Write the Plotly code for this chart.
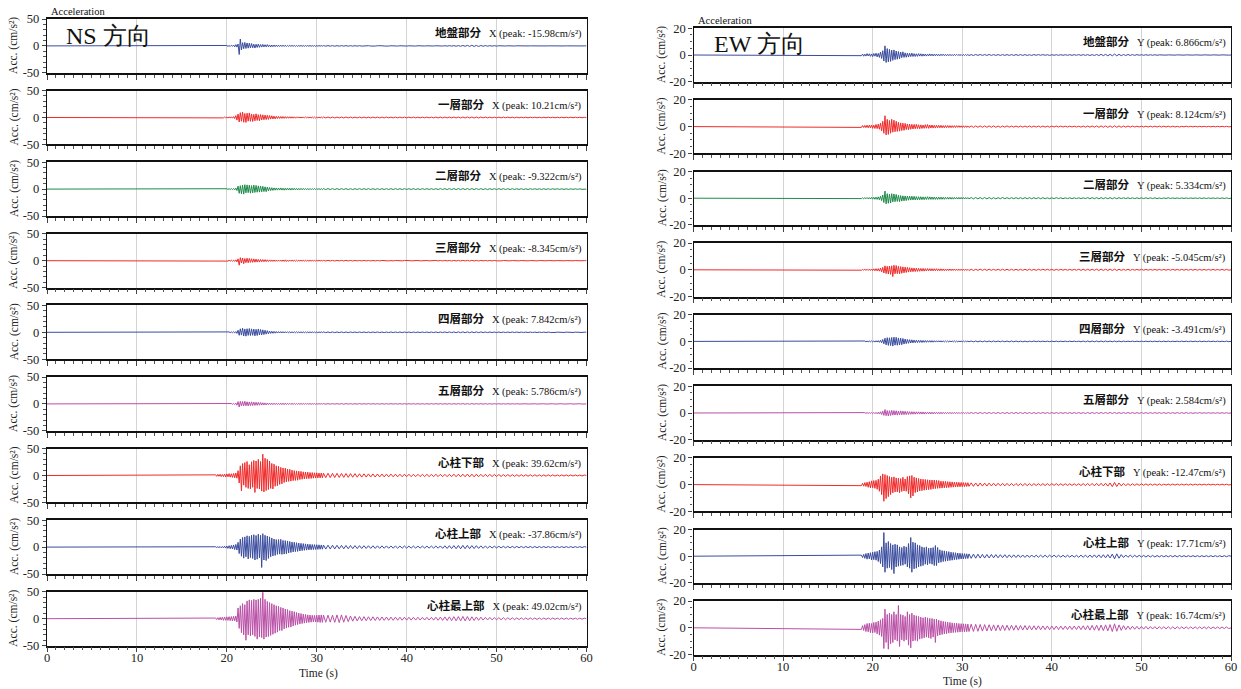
import numpy as np
import plotly.graph_objects as go

W, H = 1241, 689

# ---------------- sample time base (s) ----------------
T_MAIN = list(np.round(18.75 + 0.125 * np.arange(96), 4))   # 18.75 .. 30.625
T_TAIL = list(np.round(30.75 + 0.25 * np.arange(117), 4))   # 30.75 .. 59.75
TIME = [0.0] + T_MAIN + T_TAIL + [60.0]

# ---------------- NS (X) accelerations, cm/s^2 ----------------
NS_GROUND = [
    0.3, -0.4, 0.5, -0.3, 0.6, -0.5, 0.4, -0.6,
    0.7, -0.5, 0.8, -0.9, 0.6, -1.0, 1.2, -0.8,
    1.5, -1.8, 2.4, -2.2, 3.5, -15.98, 12.8, -7.5,
    6.0, -5.2, 6.5, -4.8, 5.5, -4.2, 5.0, -3.8,
    4.4, -3.6, 3.2, -4.0, 3.0, -2.8, 3.4, -2.6,
    2.5, -2.2, 2.8, -2.0, 2.2, -1.8, 2.4, -1.7,
    1.8, -2.0, 1.6, -1.5, 1.7, -1.4, 1.5, -1.3,
    1.4, -1.2, 1.3, -1.1, 1.4, -1.0, 1.2, -1.1,
    1.0, -0.9, 1.1, -0.9, 1.0, -0.8, 0.9, -1.0,
    0.8, -0.9, 0.8, -0.7, 0.9, -0.8, 0.7, -0.8,
    0.7, -0.7, 0.8, -0.6, 0.7, -0.7, 0.6, -0.7,
    0.6, -0.7, 0.6, -0.6, 0.7, -0.5, 0.6, -0.6,
    # tail
    0.6, -0.5, 0.6, -0.5, 0.5, -0.6, 0.5, -0.5,
    0.5, -0.4, 0.5, -0.5, 0.4, -0.5, 0.4, -0.4,
    0.4, -0.4, 0.3, -0.4, 0.4, -0.3, 0.4, -0.3,
    0.3, -0.4, 0.3, -0.3, 0.4, -0.3, 0.3, -0.3,
    0.3, -0.3, 0.3, -0.2, 0.3, -0.3, 0.2, -0.3,
    0.2, -0.3, 0.3, -0.2, 0.3, -0.2, 0.2, -0.3,
    0.3, -0.2, 0.3, -0.3, 0.4, -0.3, 0.4, -0.4,
    0.5, -0.4, 0.5, -0.6, 0.6, -0.7, 0.8, -0.7,
    1.0, -0.9, 1.2, -1.0, 0.9, -1.1, 0.8, -0.7,
    0.6, -0.5, 0.5, -0.4, 0.4, -0.4, 0.3, -0.3,
    0.3, -0.2, 0.2, -0.2, 0.2, -0.2, 0.2, -0.1,
    0.1, -0.2, 0.1, -0.1, 0.1, -0.1, 0.1, -0.1,
    0.1, -0.1, 0.1, -0.1, 0.1, -0.1, 0.1, -0.1,
    0.1, -0.1, 0.1, -0.1, 0.1, -0.1, 0.1, -0.1,
    0.1, -0.1, 0.1, -0.1, 0.1]
NS_F1 = [
    0.4, -0.5, 0.5, -0.4, 0.6, -0.5, 0.6, -0.7,
    0.8, -0.7, 0.9, -1.0, 1.1, -0.9, 1.3, -1.2,
    1.6, -2.0, 3.5, -4.8, 6.5, -8.2, 9.0, -7.0,
    10.21, -8.8, 7.5, -9.2, 8.0, -6.8, 8.5, -7.2,
    6.6, -7.4, 5.8, -6.2, 6.9, -5.5, 5.2, -6.0,
    5.4, -4.6, 5.0, -4.2, 4.5, -3.8, 4.0, -3.5,
    3.6, -3.0, 3.2, -2.8, 2.5, -2.6, 2.2, -2.0,
    2.0, -1.8, 1.9, -1.7, 1.8, -1.6, 1.6, -1.5,
    1.5, -1.4, 1.5, -1.3, 1.4, -1.3, 1.2, -1.3,
    1.2, -1.1, 1.2, -1.1, 1.0, -1.1, 1.1, -1.0,
    1.0, -1.0, 1.1, -0.9, 1.0, -0.9, 1.0, -0.9,
    0.9, -1.0, 0.9, -0.9, 1.0, -0.8, 0.9, -0.9,
    # tail
    0.9, -0.8, 0.9, -0.8, 0.8, -0.9, 0.8, -0.8,
    0.8, -0.8, 0.9, -0.7, 0.8, -0.8, 0.7, -0.8,
    0.8, -0.7, 0.8, -0.8, 0.7, -0.8, 0.8, -0.7,
    0.7, -0.8, 0.7, -0.7, 0.8, -0.7, 0.7, -0.7,
    0.7, -0.7, 0.8, -0.7, 0.7, -0.7, 0.7, -0.6,
    0.7, -0.7, 0.6, -0.7, 0.7, -0.6, 0.7, -0.7,
    0.7, -0.7, 0.8, -0.7, 0.8, -0.8, 0.8, -0.8,
    0.8, -0.8, 0.9, -0.8, 0.9, -0.9, 0.9, -0.9,
    1.0, -0.9, 1.0, -1.0, 0.9, -1.0, 0.9, -0.8,
    0.8, -0.8, 0.7, -0.8, 0.7, -0.7, 0.7, -0.7,
    0.7, -0.6, 0.7, -0.6, 0.6, -0.7, 0.6, -0.6,
    0.6, -0.6, 0.6, -0.6, 0.6, -0.5, 0.6, -0.6,
    0.5, -0.6, 0.5, -0.5, 0.6, -0.5, 0.5, -0.5,
    0.5, -0.5, 0.5, -0.5, 0.5, -0.5, 0.5, -0.4,
    0.5, -0.4, 0.4, -0.4, 0.4]
NS_F2 = [
    0.3, -0.3, 0.4, -0.4, 0.4, -0.5, 0.5, -0.5,
    0.6, -0.6, 0.7, -0.7, 0.8, -0.8, 0.9, -1.0,
    1.2, -1.4, 1.8, -2.6, 5.5, -7.8, 6.4, -8.6,
    7.5, -9.322, 8.2, -7.0, 7.8, -6.6, 7.2, -7.6,
    6.5, -7.0, 7.4, -6.2, 6.8, -5.8, 6.0, -5.6,
    5.8, -5.0, 5.2, -4.6, 4.2, -4.8, 3.8, -3.4,
    3.0, -2.8, 2.6, -2.4, 2.2, -2.0, 2.1, -1.9,
    2.0, -1.8, 2.2, -1.9, 1.8, -2.0, 1.7, -1.8,
    1.9, -1.7, 1.6, -1.8, 1.7, -1.5, 1.6, -1.4,
    1.4, -1.5, 1.3, -1.3, 1.4, -1.2, 1.3, -1.2,
    1.2, -1.2, 1.1, -1.2, 1.1, -1.0, 1.1, -1.0,
    1.0, -1.0, 1.1, -0.9, 1.0, -1.0, 0.9, -1.0,
    # tail
    0.9, -0.9, 1.0, -0.9, 0.9, -0.9, 0.9, -0.9,
    0.9, -0.8, 0.9, -0.9, 0.8, -0.9, 0.8, -0.8,
    0.9, -0.8, 0.8, -0.8, 0.9, -0.8, 0.8, -0.8,
    0.8, -0.8, 0.8, -0.8, 0.8, -0.8, 0.8, -0.8,
    0.8, -0.7, 0.8, -0.8, 0.8, -0.7, 0.8, -0.8,
    0.8, -0.8, 0.7, -0.8, 0.8, -0.7, 0.8, -0.7,
    0.8, -0.8, 0.8, -0.8, 0.9, -0.8, 0.9, -0.9,
    0.9, -0.9, 1.0, -0.9, 1.0, -1.0, 1.0, -0.9,
    1.0, -1.0, 1.0, -0.9, 1.0, -0.9, 0.9, -0.9,
    0.8, -0.9, 0.8, -0.8, 0.8, -0.8, 0.8, -0.7,
    0.8, -0.7, 0.7, -0.7, 0.7, -0.7, 0.7, -0.7,
    0.7, -0.7, 0.6, -0.7, 0.7, -0.6, 0.6, -0.6,
    0.6, -0.6, 0.6, -0.6, 0.6, -0.6, 0.6, -0.5,
    0.6, -0.5, 0.5, -0.5, 0.5, -0.5, 0.5, -0.5,
    0.5, -0.5, 0.5, -0.4, 0.4]
NS_F3 = [
    0.3, -0.3, 0.3, -0.4, 0.4, -0.4, 0.5, -0.5,
    0.5, -0.6, 0.6, -0.7, 0.7, -0.8, 0.9, -0.9,
    1.0, -1.3, 1.6, -2.2, 3.4, -8.345, 5.6, -4.2,
    4.8, -5.6, 4.0, -3.6, 4.6, -3.8, 4.2, -3.2,
    3.6, -3.0, 3.4, -2.8, 3.0, -2.6, 2.4, -2.5,
    2.2, -2.0, 2.1, -1.8, 1.9, -1.7, 1.6, -1.5,
    1.5, -1.4, 1.4, -1.3, 1.3, -1.2, 1.2, -1.1,
    1.1, -1.0, 1.2, -1.2, 1.3, -1.4, 1.5, -1.4,
    1.3, -1.2, 1.1, -1.0, 1.0, -0.9, 0.9, -0.9,
    0.8, -0.8, 0.8, -0.7, 0.8, -0.7, 0.7, -0.7,
    0.7, -0.7, 0.6, -0.7, 0.6, -0.6, 0.6, -0.6,
    0.6, -0.6, 0.6, -0.5, 0.6, -0.5, 0.5, -0.5,
    # tail
    0.5, -0.5, 0.5, -0.5, 0.5, -0.5, 0.5, -0.4,
    0.5, -0.4, 0.5, -0.4, 0.4, -0.5, 0.4, -0.4,
    0.4, -0.4, 0.4, -0.4, 0.4, -0.4, 0.4, -0.4,
    0.4, -0.4, 0.4, -0.3, 0.4, -0.4, 0.3, -0.4,
    0.4, -0.3, 0.4, -0.3, 0.3, -0.4, 0.3, -0.3,
    0.3, -0.3, 0.4, -0.3, 0.3, -0.3, 0.3, -0.3,
    0.3, -0.3, 0.4, -0.4, 0.4, -0.4, 0.4, -0.4,
    0.4, -0.5, 0.5, -0.5, 0.5, -0.5, 0.6, -0.5,
    0.6, -0.6, 0.6, -0.5, 0.5, -0.5, 0.5, -0.4,
    0.4, -0.4, 0.4, -0.4, 0.4, -0.3, 0.4, -0.3,
    0.3, -0.3, 0.3, -0.3, 0.3, -0.3, 0.3, -0.3,
    0.3, -0.3, 0.3, -0.3, 0.3, -0.3, 0.3, -0.3,
    0.3, -0.3, 0.3, -0.2, 0.3, -0.2, 0.3, -0.2,
    0.2, -0.3, 0.2, -0.2, 0.2, -0.2, 0.2, -0.2,
    0.2, -0.2, 0.2, -0.2, 0.2]
NS_F4 = [
    0.3, -0.3, 0.3, -0.3, 0.4, -0.4, 0.4, -0.5,
    0.5, -0.5, 0.6, -0.6, 0.7, -0.7, 0.8, -0.8,
    0.9, -1.1, 1.4, -2.0, 3.8, -5.6, 6.5, -5.2,
    7.842, -6.8, 6.2, -7.2, 6.6, -5.8, 7.0, -6.0,
    6.4, -5.6, 6.0, -6.6, 5.4, -5.9, 6.2, -5.0,
    5.2, -4.8, 4.6, -4.2, 3.8, -3.4, 3.0, -2.8,
    2.4, -2.2, 2.0, -1.8, 1.7, -1.6, 1.5, -1.4,
    1.4, -1.3, 1.3, -1.2, 1.2, -1.2, 1.1, -1.1,
    1.1, -1.0, 1.0, -1.0, 1.0, -0.9, 1.0, -0.9,
    0.9, -0.9, 0.9, -0.8, 0.9, -0.8, 0.8, -0.8,
    0.8, -0.8, 0.8, -0.7, 0.8, -0.7, 0.7, -0.7,
    0.7, -0.7, 0.7, -0.7, 0.7, -0.6, 0.7, -0.6,
    # tail
    0.7, -0.6, 0.6, -0.6, 0.6, -0.6, 0.6, -0.6,
    0.6, -0.6, 0.6, -0.6, 0.6, -0.5, 0.6, -0.6,
    0.6, -0.5, 0.6, -0.6, 0.5, -0.6, 0.6, -0.5,
    0.6, -0.5, 0.5, -0.6, 0.5, -0.5, 0.6, -0.5,
    0.5, -0.5, 0.6, -0.5, 0.5, -0.5, 0.5, -0.5,
    0.5, -0.5, 0.5, -0.5, 0.5, -0.5, 0.5, -0.5,
    0.5, -0.6, 0.6, -0.6, 0.6, -0.6, 0.7, -0.6,
    0.7, -0.7, 0.7, -0.7, 0.8, -0.7, 0.8, -0.8,
    0.8, -0.8, 0.8, -0.7, 0.7, -0.7, 0.7, -0.6,
    0.6, -0.6, 0.6, -0.5, 0.5, -0.5, 0.5, -0.5,
    0.5, -0.5, 0.5, -0.4, 0.5, -0.4, 0.5, -0.4,
    0.4, -0.4, 0.4, -0.4, 0.4, -0.4, 0.4, -0.4,
    0.4, -0.4, 0.4, -0.4, 0.4, -0.3, 0.4, -0.3,
    0.3, -0.3, 0.3, -0.3, 0.3, -0.3, 0.3, -0.3,
    0.3, -0.3, 0.3, -0.3, 0.3]
NS_F5 = [
    0.2, -0.3, 0.3, -0.3, 0.3, -0.3, 0.4, -0.4,
    0.4, -0.5, 0.5, -0.5, 0.6, -0.6, 0.7, -0.7,
    0.8, -1.0, 1.4, -2.4, 4.2, -5.786, 4.6, -3.8,
    4.4, -3.6, 4.8, -3.4, 4.0, -3.8, 3.6, -3.2,
    3.8, -3.0, 3.4, -2.8, 3.0, -2.6, 2.8, -2.4,
    2.6, -2.2, 2.2, -2.0, 1.9, -1.8, 1.7, -1.6,
    1.5, -1.4, 1.4, -1.3, 1.3, -1.2, 1.2, -1.2,
    1.2, -1.3, 1.3, -1.4, 1.4, -1.3, 1.4, -1.3,
    1.2, -1.2, 1.1, -1.0, 1.0, -0.9, 0.9, -0.9,
    0.8, -0.8, 0.8, -0.7, 0.7, -0.7, 0.7, -0.7,
    0.7, -0.6, 0.6, -0.6, 0.6, -0.6, 0.6, -0.6,
    0.6, -0.6, 0.6, -0.5, 0.6, -0.5, 0.5, -0.5,
    # tail
    0.5, -0.5, 0.5, -0.5, 0.5, -0.5, 0.5, -0.5,
    0.5, -0.5, 0.5, -0.4, 0.5, -0.5, 0.4, -0.5,
    0.5, -0.4, 0.4, -0.4, 0.5, -0.4, 0.4, -0.4,
    0.4, -0.4, 0.4, -0.4, 0.4, -0.4, 0.4, -0.4,
    0.4, -0.4, 0.4, -0.4, 0.4, -0.4, 0.4, -0.4,
    0.4, -0.4, 0.4, -0.4, 0.4, -0.4, 0.4, -0.4,
    0.4, -0.4, 0.5, -0.4, 0.5, -0.5, 0.5, -0.5,
    0.5, -0.5, 0.5, -0.5, 0.6, -0.5, 0.6, -0.6,
    0.6, -0.6, 0.6, -0.5, 0.5, -0.5, 0.5, -0.5,
    0.5, -0.4, 0.4, -0.4, 0.4, -0.4, 0.4, -0.4,
    0.4, -0.4, 0.4, -0.4, 0.4, -0.3, 0.4, -0.3,
    0.3, -0.3, 0.3, -0.3, 0.3, -0.3, 0.3, -0.3,
    0.3, -0.3, 0.3, -0.3, 0.3, -0.3, 0.3, -0.3,
    0.3, -0.3, 0.3, -0.3, 0.3, -0.3, 0.3, -0.3,
    0.3, -0.3, 0.3, -0.3, 0.3]
NS_CORE_LOW = [
    1.2, -1.6, 2.0, -1.5, 2.4, -2.0, 1.8, -2.2,
    2.6, -2.8, 3.0, -2.4, 3.4, -3.0, 3.2, -3.6,
    3.8, -4.2, 4.6, -5.0, 9.0, -14.0, 18.0, -28.5,
    22.0, -18.0, 24.0, -22.0, 26.0, -24.0, 20.0, -25.0,
    25.5, -22.0, 28.0, -31.5, 27.0, -24.0, 30.0, -25.0,
    26.0, -29.0, 39.62, -30.5, 32.0, -28.0, 30.0, -26.0,
    27.0, -24.0, 22.5, -25.0, 21.0, -20.0, 18.0, -19.0,
    17.0, -16.5, 15.0, -15.5, 14.0, -13.0, 13.5, -12.0,
    12.0, -11.0, 11.5, -10.5, 10.0, -9.5, 9.0, -9.2,
    8.5, -8.8, 8.0, -7.5, 7.6, -7.0, 6.8, -6.5,
    6.5, -6.0, 6.2, -5.8, 5.6, -5.5, 5.4, -5.0,
    5.0, -4.8, 5.0, -4.6, 4.5, -4.4, 4.6, -4.2,
    # tail
    4.2, -4.0, 4.2, -3.9, 4.0, -3.8, 4.0, -3.6,
    3.8, -3.5, 3.6, -3.4, 3.5, -3.2, 3.4, -3.1,
    3.2, -3.0, 3.1, -2.9, 3.0, -2.8, 2.9, -2.8,
    2.8, -2.6, 2.7, -2.6, 2.6, -2.5, 2.6, -2.4,
    2.5, -2.4, 2.4, -2.3, 2.4, -2.2, 2.3, -2.2,
    2.2, -2.1, 2.2, -2.0, 2.1, -2.0, 2.1, -2.0,
    2.0, -2.0, 2.1, -2.0, 2.2, -2.1, 2.2, -2.2,
    2.3, -2.2, 2.4, -2.3, 2.4, -2.4, 2.5, -2.4,
    2.6, -2.5, 2.5, -2.4, 2.4, -2.3, 2.2, -2.2,
    2.1, -2.0, 2.0, -1.9, 1.9, -1.8, 1.8, -1.8,
    1.7, -1.7, 1.7, -1.6, 1.6, -1.6, 1.5, -1.5,
    1.5, -1.4, 1.5, -1.4, 1.4, -1.4, 1.3, -1.3,
    1.3, -1.3, 1.2, -1.2, 1.2, -1.2, 1.2, -1.1,
    1.1, -1.1, 1.1, -1.0, 1.0, -1.0, 1.0, -1.0,
    1.0, -0.9, 0.9, -0.9, 0.9]
NS_CORE_UP = [
    0.6, -0.8, 0.8, -1.0, 1.0, -1.2, 1.2, -1.4,
    1.6, -1.8, 2.0, -2.4, 2.6, -3.0, 3.2, -3.5,
    4.0, -4.6, 5.0, -5.5, 9.0, -12.0, 15.0, -17.0,
    18.0, -20.5, 19.0, -18.0, 21.0, -22.0, 20.0, -19.5,
    22.0, -21.0, 23.0, -24.0, 21.5, -22.5, 24.0, -20.0,
    22.0, -37.86, 25.0, -24.0, 22.0, -25.0, 20.5, -21.0,
    19.0, -18.0, 17.0, -16.5, 15.0, -15.5, 14.0, -13.5,
    14.0, -13.0, 14.5, -13.5, 12.5, -13.0, 12.0, -12.5,
    11.5, -11.0, 10.5, -10.0, 9.5, -9.0, 9.0, -8.5,
    8.2, -8.0, 7.5, -7.2, 7.0, -6.5, 6.5, -6.0,
    6.0, -5.6, 5.5, -5.2, 5.2, -5.0, 4.8, -4.6,
    4.6, -4.4, 4.4, -4.2, 4.2, -4.0, 4.0, -3.9,
    # tail
    3.8, -3.7, 3.6, -3.5, 3.5, -3.4, 3.3, -3.2,
    3.2, -3.1, 3.0, -3.0, 2.9, -2.8, 2.8, -2.7,
    2.7, -2.6, 2.6, -2.5, 2.5, -2.4, 2.4, -2.4,
    2.3, -2.3, 2.3, -2.2, 2.2, -2.2, 2.1, -2.1,
    2.1, -2.0, 2.0, -2.0, 2.0, -1.9, 1.9, -1.9,
    1.9, -1.8, 1.8, -1.8, 1.8, -1.8, 1.8, -1.8,
    1.9, -1.9, 2.0, -2.1, 2.2, -2.3, 2.4, -2.5,
    2.6, -2.7, 2.8, -2.9, 3.0, -3.1, 3.2, -3.0,
    3.2, -3.0, 2.8, -2.7, 2.6, -2.4, 2.3, -2.2,
    2.0, -1.9, 1.8, -1.7, 1.7, -1.6, 1.6, -1.5,
    1.5, -1.4, 1.4, -1.4, 1.3, -1.3, 1.3, -1.2,
    1.2, -1.2, 1.2, -1.1, 1.1, -1.1, 1.1, -1.1,
    1.0, -1.0, 1.0, -1.0, 1.0, -1.0, 1.0, -0.9,
    0.9, -0.9, 0.9, -0.9, 0.9, -0.9, 0.9, -0.9,
    0.9, -0.8, 0.8, -0.8, 0.8]
NS_CORE_TOP = [
    1.2, -1.6, 2.0, -2.2, 2.5, -2.4, 2.8, -3.0,
    3.2, -3.0, 3.5, -3.2, 3.8, -3.6, 4.0, -4.2,
    4.5, -4.0, 5.0, -6.0, 20.0, -18.0, 24.0, -26.0,
    28.0, -30.0, 26.0, -40.0, 33.0, -30.0, 35.0, -32.0,
    34.0, -30.0, 36.0, -33.0, 35.0, -38.0, 36.0, -34.0,
    38.0, -35.0, 49.02, -38.0, 36.0, -34.0, 32.0, -33.0,
    30.0, -31.0, 28.0, -29.0, 26.0, -27.0, 24.0, -25.0,
    23.0, -22.0, 21.0, -22.0, 20.0, -19.0, 18.0, -17.5,
    17.0, -16.0, 15.0, -15.5, 14.0, -13.5, 13.0, -12.0,
    11.5, -11.0, 10.5, -10.0, 9.5, -9.0, 8.5, -8.2,
    8.0, -7.5, 7.2, -7.0, 6.8, -6.5, 6.4, -6.2,
    6.0, -6.2, 6.5, -6.6, 6.8, -7.0, 7.0, -6.8,
    # tail
    6.8, -6.6, 6.5, -6.4, 6.6, -6.8, 7.0, -7.2,
    7.0, -6.5, 6.0, -5.5, 5.0, -4.6, 4.4, -4.2,
    4.0, -3.9, 3.8, -3.7, 3.6, -3.5, 3.5, -3.4,
    3.3, -3.3, 3.2, -3.1, 3.1, -3.0, 3.0, -3.0,
    2.9, -2.9, 2.8, -2.8, 2.8, -2.7, 2.7, -2.7,
    2.6, -2.6, 2.6, -2.5, 2.5, -2.5, 2.5, -2.5,
    2.6, -2.7, 2.8, -2.9, 3.0, -3.2, 3.3, -3.4,
    3.5, -3.6, 3.8, -3.9, 4.0, -4.1, 4.2, -4.0,
    4.0, -3.8, 3.6, -3.4, 3.2, -3.0, 2.8, -2.6,
    2.5, -2.4, 2.3, -2.2, 2.2, -2.1, 2.0, -2.0,
    1.9, -1.9, 1.8, -1.8, 1.7, -1.7, 1.6, -1.6,
    1.6, -1.5, 1.5, -1.5, 1.5, -1.4, 1.4, -1.4,
    1.4, -1.3, 1.3, -1.3, 1.3, -1.3, 1.3, -1.2,
    1.2, -1.2, 1.2, -1.2, 1.2, -1.1, 1.1, -1.1,
    1.1, -1.1, 1.1, -1.0, 1.0]

# ---------------- EW (Y) accelerations, cm/s^2 ----------------
EW_GROUND = [
    -0.5, 0.7, -0.9, 0.6, -0.8, 1.0, -0.7, 0.9,
    -1.0, 0.8, -1.2, 1.1, -0.9, 1.3, -1.4, 1.2,
    -1.8, 2.2, -2.6, 3.2, -4.5, 6.866, -5.6, 4.8,
    -5.2, 4.2, -4.8, 3.6, -4.0, 3.8, -3.4, 3.0,
    -3.2, 2.6, -2.8, 2.2, -2.0, 2.4, -1.8, 1.6,
    -1.7, 1.4, -1.5, 1.3, -1.2, 1.4, -1.1, 1.0,
    -1.1, 0.9, -1.0, 1.0, -0.8, 0.9, -0.9, 0.8,
    -0.8, 0.7, -0.8, 0.7, -0.7, 0.8, -0.6, 0.7,
    -0.7, 0.6, -0.6, 0.7, -0.6, 0.5, -0.6, 0.6,
    -0.5, 0.6, -0.5, 0.5, -0.6, 0.5, -0.5, 0.5,
    -0.5, 0.4, -0.5, 0.5, -0.4, 0.5, -0.4, 0.4,
    -0.4, 0.4, -0.5, 0.4, -0.4, 0.4, -0.4, 0.4,
    # tail
    -0.4, 0.3, -0.4, 0.4, -0.3, 0.4, -0.3, 0.3,
    -0.3, 0.4, -0.3, 0.3, -0.3, 0.3, -0.3, 0.3,
    -0.3, 0.3, -0.3, 0.3, -0.3, 0.3, -0.3, 0.3,
    -0.3, 0.3, -0.3, 0.2, -0.3, 0.3, -0.2, 0.3,
    -0.2, 0.3, -0.2, 0.2, -0.3, 0.2, -0.2, 0.2,
    -0.2, 0.2, -0.2, 0.2, -0.2, 0.2, -0.2, 0.2,
    -0.2, 0.3, -0.3, 0.3, -0.3, 0.3, -0.4, 0.3,
    -0.4, 0.4, -0.4, 0.5, -0.5, 0.5, -0.6, 0.5,
    -0.6, 0.7, -0.6, 0.5, -0.5, 0.4, -0.4, 0.4,
    -0.3, 0.3, -0.3, 0.3, -0.2, 0.2, -0.2, 0.2,
    -0.2, 0.2, -0.2, 0.2, -0.2, 0.1, -0.1, 0.1,
    -0.1, 0.1, -0.1, 0.1, -0.1, 0.1, -0.1, 0.1,
    -0.1, 0.1, -0.1, 0.1, -0.1, 0.1, -0.1, 0.1,
    -0.1, 0.1, -0.1, 0.1, -0.1, 0.1, -0.1, 0.1,
    -0.1, 0.1, -0.1, 0.1, -0.1]
EW_F1 = [
    -0.6, 0.8, -0.7, 0.9, -0.8, 1.0, -0.9, 1.1,
    -1.0, 1.2, -1.3, 1.1, -1.4, 1.6, -1.5, 1.8,
    -2.0, 2.6, -3.2, 4.0, -5.0, 8.124, -6.2, 5.4,
    -5.8, 4.6, -5.0, 5.5, -4.2, 4.8, -3.8, 4.0,
    -3.6, 3.2, -3.4, 2.8, -3.0, 2.6, -2.8, 2.4,
    -2.2, 2.0, -2.3, 1.8, -2.0, 1.7, -1.8, 1.6,
    -1.6, 1.7, -1.5, 1.4, -1.6, 1.3, -1.4, 1.2,
    -1.3, 1.4, -1.2, 1.5, -1.3, 1.2, -1.1, 1.2,
    -1.1, 1.0, -1.1, 1.0, -0.9, 1.0, -0.9, 0.9,
    -0.9, 0.8, -0.9, 0.8, -0.8, 0.8, -0.8, 0.7,
    -0.8, 0.7, -0.7, 0.7, -0.7, 0.7, -0.6, 0.7,
    -0.6, 0.6, -0.7, 0.6, -0.6, 0.6, -0.6, 0.5,
    # tail
    -0.6, 0.5, -0.6, 0.5, -0.5, 0.5, -0.5, 0.5,
    -0.5, 0.5, -0.5, 0.5, -0.5, 0.4, -0.5, 0.4,
    -0.4, 0.5, -0.4, 0.4, -0.4, 0.4, -0.4, 0.4,
    -0.4, 0.4, -0.4, 0.4, -0.4, 0.4, -0.4, 0.4,
    -0.4, 0.4, -0.4, 0.3, -0.4, 0.4, -0.3, 0.4,
    -0.3, 0.4, -0.3, 0.3, -0.3, 0.3, -0.3, 0.3,
    -0.3, 0.3, -0.4, 0.4, -0.4, 0.4, -0.4, 0.4,
    -0.4, 0.5, -0.5, 0.5, -0.5, 0.5, -0.6, 0.5,
    -0.6, 0.6, -0.5, 0.5, -0.5, 0.4, -0.4, 0.4,
    -0.4, 0.4, -0.3, 0.3, -0.3, 0.3, -0.3, 0.3,
    -0.3, 0.3, -0.3, 0.3, -0.3, 0.3, -0.3, 0.3,
    -0.3, 0.3, -0.3, 0.3, -0.3, 0.2, -0.3, 0.2,
    -0.2, 0.3, -0.2, 0.2, -0.2, 0.2, -0.2, 0.2,
    -0.2, 0.2, -0.2, 0.2, -0.2, 0.2, -0.2, 0.2,
    -0.2, 0.2, -0.2, 0.2, -0.2]
EW_F2 = [
    -0.3, 0.3, -0.4, 0.4, -0.4, 0.5, -0.5, 0.5,
    -0.6, 0.6, -0.7, 0.7, -0.8, 0.8, -0.9, 1.0,
    -1.2, 1.5, -1.8, 2.4, -3.2, 5.334, -4.2, 3.4,
    -3.8, 3.0, -3.6, 3.4, -2.8, 3.2, -2.6, 2.8,
    -2.4, 2.2, -2.6, 2.0, -2.2, 1.8, -2.0, 1.7,
    -1.8, 1.6, -1.5, 1.6, -1.4, 1.5, -1.3, 1.4,
    -1.3, 1.2, -1.3, 1.1, -1.2, 1.1, -1.1, 1.0,
    -1.1, 1.0, -1.0, 1.1, -0.9, 1.0, -0.9, 0.9,
    -0.9, 0.9, -0.9, 0.8, -0.9, 0.8, -0.8, 0.8,
    -0.8, 0.7, -0.8, 0.7, -0.7, 0.7, -0.7, 0.7,
    -0.7, 0.6, -0.7, 0.6, -0.6, 0.6, -0.6, 0.6,
    -0.6, 0.6, -0.6, 0.5, -0.6, 0.5, -0.5, 0.5,
    # tail
    -0.5, 0.5, -0.5, 0.5, -0.5, 0.5, -0.5, 0.5,
    -0.5, 0.5, -0.5, 0.4, -0.5, 0.4, -0.4, 0.5,
    -0.4, 0.4, -0.4, 0.4, -0.4, 0.4, -0.4, 0.4,
    -0.4, 0.4, -0.4, 0.4, -0.4, 0.4, -0.4, 0.4,
    -0.4, 0.4, -0.4, 0.3, -0.4, 0.3, -0.3, 0.4,
    -0.3, 0.3, -0.4, 0.3, -0.3, 0.3, -0.3, 0.3,
    -0.3, 0.3, -0.3, 0.3, -0.3, 0.4, -0.4, 0.4,
    -0.4, 0.4, -0.4, 0.4, -0.4, 0.4, -0.4, 0.4,
    -0.4, 0.4, -0.4, 0.4, -0.3, 0.3, -0.3, 0.3,
    -0.3, 0.3, -0.3, 0.3, -0.3, 0.3, -0.3, 0.3,
    -0.3, 0.3, -0.3, 0.3, -0.3, 0.2, -0.3, 0.2,
    -0.2, 0.3, -0.2, 0.2, -0.2, 0.2, -0.2, 0.2,
    -0.2, 0.2, -0.2, 0.2, -0.2, 0.2, -0.2, 0.2,
    -0.2, 0.2, -0.2, 0.2, -0.2, 0.2, -0.2, 0.2,
    -0.2, 0.2, -0.2, 0.2, -0.2]
EW_F3 = [
    -0.3, 0.3, -0.3, 0.4, -0.4, 0.4, -0.5, 0.5,
    -0.5, 0.6, -0.6, 0.7, -0.7, 0.8, -0.8, 0.9,
    -1.0, 1.2, -1.5, 1.8, -2.4, 3.0, -2.8, 2.6,
    -3.2, 2.8, -3.4, 3.0, -5.045, 3.4, -3.0, 3.2,
    -2.8, 2.6, -3.0, 2.4, -2.6, 2.2, -2.3, 2.0,
    -2.0, 1.8, -1.7, 1.6, -1.5, 1.4, -1.4, 1.3,
    -1.3, 1.2, -1.2, 1.1, -1.1, 1.0, -1.0, 1.0,
    -1.0, 0.9, -0.9, 0.9, -0.8, 0.9, -0.8, 0.8,
    -0.8, 0.8, -0.7, 0.8, -0.7, 0.7, -0.7, 0.7,
    -0.7, 0.6, -0.7, 0.6, -0.6, 0.6, -0.6, 0.6,
    -0.6, 0.6, -0.5, 0.6, -0.5, 0.5, -0.5, 0.5,
    -0.5, 0.5, -0.5, 0.5, -0.5, 0.5, -0.5, 0.4,
    # tail
    -0.5, 0.4, -0.5, 0.4, -0.4, 0.5, -0.4, 0.4,
    -0.4, 0.4, -0.4, 0.4, -0.4, 0.4, -0.4, 0.4,
    -0.4, 0.4, -0.4, 0.4, -0.4, 0.4, -0.4, 0.4,
    -0.4, 0.4, -0.4, 0.4, -0.4, 0.3, -0.4, 0.4,
    -0.3, 0.4, -0.3, 0.4, -0.3, 0.3, -0.4, 0.3,
    -0.3, 0.3, -0.3, 0.3, -0.3, 0.3, -0.3, 0.3,
    -0.3, 0.4, -0.4, 0.4, -0.4, 0.4, -0.4, 0.4,
    -0.4, 0.5, -0.5, 0.5, -0.5, 0.5, -0.5, 0.5,
    -0.5, 0.5, -0.5, 0.4, -0.4, 0.4, -0.4, 0.4,
    -0.4, 0.3, -0.3, 0.3, -0.3, 0.3, -0.3, 0.3,
    -0.3, 0.3, -0.3, 0.3, -0.3, 0.3, -0.3, 0.3,
    -0.3, 0.3, -0.3, 0.3, -0.3, 0.3, -0.3, 0.3,
    -0.3, 0.3, -0.3, 0.3, -0.3, 0.3, -0.3, 0.3,
    -0.3, 0.3, -0.3, 0.3, -0.3, 0.3, -0.3, 0.3,
    -0.3, 0.3, -0.3, 0.3, -0.3]
EW_F4 = [
    -0.2, 0.2, -0.2, 0.3, -0.3, 0.3, -0.3, 0.3,
    -0.3, 0.4, -0.4, 0.4, -0.5, 0.5, -0.5, 0.6,
    -0.7, 0.8, -1.0, 1.4, -1.8, 2.4, -2.6, 2.8,
    -3.0, 2.7, -3.1, 2.9, -3.491, 3.2, -2.8, 3.0,
    -2.9, 2.6, -2.7, 2.4, -2.5, 2.2, -2.0, 1.8,
    -1.7, 1.5, -1.4, 1.3, -1.2, 1.2, -1.1, 1.0,
    -1.0, 0.9, -0.9, 0.9, -0.8, 0.8, -0.8, 0.7,
    -0.7, 0.7, -0.7, 0.6, -0.6, 0.6, -0.6, 0.6,
    -0.6, 0.5, -0.5, 0.5, -0.5, 0.5, -0.5, 0.5,
    -0.5, 0.4, -0.4, 0.4, -0.4, 0.4, -0.4, 0.4,
    -0.4, 0.4, -0.4, 0.4, -0.4, 0.3, -0.4, 0.3,
    -0.3, 0.3, -0.3, 0.3, -0.3, 0.3, -0.3, 0.3,
    # tail
    -0.3, 0.3, -0.3, 0.3, -0.3, 0.3, -0.3, 0.3,
    -0.3, 0.3, -0.3, 0.3, -0.3, 0.3, -0.3, 0.3,
    -0.3, 0.3, -0.3, 0.3, -0.3, 0.3, -0.3, 0.2,
    -0.3, 0.2, -0.3, 0.2, -0.2, 0.3, -0.2, 0.2,
    -0.2, 0.2, -0.2, 0.2, -0.2, 0.2, -0.2, 0.2,
    -0.2, 0.2, -0.2, 0.2, -0.2, 0.2, -0.2, 0.2,
    -0.2, 0.2, -0.3, 0.3, -0.3, 0.3, -0.3, 0.3,
    -0.3, 0.3, -0.3, 0.3, -0.3, 0.3, -0.3, 0.3,
    -0.3, 0.3, -0.3, 0.3, -0.3, 0.2, -0.2, 0.2,
    -0.2, 0.2, -0.2, 0.2, -0.2, 0.2, -0.2, 0.2,
    -0.2, 0.2, -0.2, 0.2, -0.2, 0.2, -0.2, 0.2,
    -0.2, 0.2, -0.2, 0.2, -0.2, 0.2, -0.2, 0.2,
    -0.2, 0.2, -0.2, 0.2, -0.2, 0.2, -0.2, 0.2,
    -0.2, 0.2, -0.2, 0.2, -0.2, 0.2, -0.2, 0.2,
    -0.2, 0.2, -0.2, 0.2, -0.2]
EW_F5 = [
    -0.2, 0.2, -0.2, 0.3, -0.3, 0.3, -0.3, 0.3,
    -0.3, 0.4, -0.4, 0.4, -0.5, 0.5, -0.6, 0.6,
    -0.7, 0.9, -1.1, 1.4, -1.8, 2.584, -2.0, 1.8,
    -2.2, 1.7, -1.9, 2.0, -1.6, 1.8, -1.5, 1.7,
    -1.6, 1.5, -1.4, 1.6, -1.3, 1.4, -1.2, 1.3,
    -1.2, 1.1, -1.1, 1.0, -1.0, 1.0, -0.9, 0.9,
    -0.9, 0.9, -0.8, 0.9, -0.8, 0.8, -0.8, 0.8,
    -0.8, 0.7, -0.7, 0.7, -0.7, 0.7, -0.7, 0.6,
    -0.7, 0.6, -0.6, 0.6, -0.6, 0.6, -0.6, 0.6,
    -0.6, 0.5, -0.5, 0.5, -0.5, 0.5, -0.5, 0.5,
    -0.5, 0.5, -0.5, 0.5, -0.5, 0.5, -0.5, 0.4,
    -0.5, 0.4, -0.4, 0.4, -0.4, 0.4, -0.4, 0.4,
    # tail
    -0.4, 0.4, -0.4, 0.4, -0.4, 0.4, -0.4, 0.4,
    -0.4, 0.4, -0.4, 0.4, -0.4, 0.4, -0.4, 0.4,
    -0.4, 0.4, -0.4, 0.4, -0.4, 0.4, -0.4, 0.4,
    -0.4, 0.4, -0.4, 0.4, -0.4, 0.3, -0.4, 0.3,
    -0.3, 0.4, -0.3, 0.3, -0.3, 0.3, -0.3, 0.3,
    -0.3, 0.3, -0.3, 0.3, -0.3, 0.3, -0.3, 0.3,
    -0.3, 0.3, -0.3, 0.3, -0.4, 0.4, -0.4, 0.4,
    -0.4, 0.4, -0.4, 0.4, -0.4, 0.4, -0.4, 0.4,
    -0.4, 0.4, -0.4, 0.3, -0.3, 0.3, -0.3, 0.3,
    -0.3, 0.3, -0.3, 0.3, -0.3, 0.3, -0.3, 0.3,
    -0.3, 0.3, -0.3, 0.3, -0.3, 0.3, -0.3, 0.3,
    -0.3, 0.3, -0.3, 0.3, -0.3, 0.3, -0.3, 0.3,
    -0.3, 0.3, -0.3, 0.2, -0.3, 0.2, -0.2, 0.3,
    -0.2, 0.2, -0.2, 0.2, -0.2, 0.2, -0.2, 0.2,
    -0.2, 0.2, -0.2, 0.2, -0.2]
EW_CORE_LOW = [
    -0.8, 1.0, -1.2, 1.5, -1.4, 1.8, -2.0, 2.2,
    -2.5, 2.8, -2.4, 3.0, -2.8, 3.2, -3.5, 4.0,
    -5.0, 6.5, -7.5, 8.0, -12.47, 7.5, -10.5, 6.8,
    -9.0, 6.0, -7.5, 5.5, -6.2, 5.8, -5.5, 5.0,
    -5.5, 4.8, -6.0, 4.5, -5.2, 5.5, -4.8, 4.2,
    -5.0, 6.0, -7.0, 6.5, -10.0, 6.8, -8.5, 5.5,
    -6.0, 5.0, -5.5, 4.6, -4.8, 4.2, -4.5, 4.0,
    -4.2, 3.8, -4.0, 3.6, -3.8, 3.5, -3.6, 3.4,
    -3.2, 3.4, -3.0, 3.2, -2.8, 3.0, -2.7, 2.6,
    -2.6, 2.5, -2.4, 2.4, -2.3, 2.2, -2.2, 2.1,
    -2.0, 2.0, -1.9, 1.9, -1.8, 1.8, -1.7, 1.7,
    -1.6, 1.6, -1.6, 1.5, -1.5, 1.4, -1.4, 1.4,
    # tail
    -1.3, 1.3, -1.3, 1.2, -1.2, 1.2, -1.1, 1.1,
    -1.1, 1.1, -1.0, 1.0, -1.0, 1.0, -0.9, 0.9,
    -0.9, 0.9, -0.9, 0.8, -0.9, 0.8, -0.8, 0.8,
    -0.8, 0.8, -0.8, 0.7, -0.8, 0.7, -0.7, 0.7,
    -0.7, 0.7, -0.7, 0.7, -0.7, 0.7, -0.6, 0.7,
    -0.6, 0.6, -0.6, 0.6, -0.6, 0.6, -0.6, 0.6,
    -0.6, 0.6, -0.7, 0.7, -0.7, 0.8, -0.8, 0.9,
    -0.9, 0.9, -0.9, 1.0, -1.0, 1.0, -1.1, 1.2,
    -1.5, 1.6, -1.4, 1.2, -1.0, 0.9, -0.8, 0.7,
    -0.7, 0.6, -0.6, 0.6, -0.6, 0.6, -0.5, 0.5,
    -0.5, 0.5, -0.5, 0.5, -0.5, 0.5, -0.5, 0.4,
    -0.4, 0.4, -0.4, 0.4, -0.4, 0.4, -0.4, 0.4,
    -0.4, 0.4, -0.4, 0.4, -0.4, 0.4, -0.3, 0.3,
    -0.3, 0.3, -0.3, 0.3, -0.3, 0.3, -0.3, 0.3,
    -0.3, 0.3, -0.3, 0.3, -0.3]
EW_CORE_UP = [
    0.8, -1.0, 1.4, -1.6, 2.0, -2.2, 2.4, -2.0,
    2.6, -2.8, 3.0, -2.6, 3.4, -3.0, 3.6, -4.0,
    4.5, -5.5, 7.0, -8.0, 17.71, -12.0, 10.0, -9.0,
    11.0, -8.5, 9.5, -10.0, 8.5, -13.0, 9.0, -8.0,
    8.5, -7.5, 7.0, -7.0, 6.5, -6.8, 7.5, -6.0,
    7.0, -8.0, 9.5, -9.0, 14.0, -12.0, 10.5, -9.5,
    10.0, -9.0, 8.5, -8.0, 8.0, -7.5, 7.0, -7.0,
    6.5, -6.0, 7.0, -6.5, 6.0, -5.5, 6.2, -6.0,
    6.5, -7.0, 8.0, -7.0, 6.5, -5.0, 4.8, -4.5,
    4.2, -4.0, 4.0, -3.8, 3.6, -3.5, 3.4, -3.2,
    3.0, -3.0, 2.8, -2.7, 2.6, -2.5, 2.4, -2.3,
    2.2, -2.1, 2.0, -2.0, 1.9, -1.8, 1.8, -1.7,
    # tail
    1.7, -1.6, 1.6, -1.5, 1.5, -1.4, 1.4, -1.4,
    1.3, -1.3, 1.3, -1.2, 1.2, -1.2, 1.1, -1.1,
    1.1, -1.1, 1.0, -1.0, 1.0, -1.0, 1.0, -0.9,
    0.9, -0.9, 0.9, -0.9, 0.9, -0.8, 0.8, -0.8,
    0.8, -0.8, 0.8, -0.8, 0.8, -0.7, 0.8, -0.7,
    0.7, -0.7, 0.7, -0.7, 0.7, -0.7, 0.7, -0.7,
    0.7, -0.8, 0.8, -0.8, 0.8, -0.9, 0.9, -0.9,
    1.0, -1.0, 1.0, -1.1, 1.1, -1.2, 1.2, -1.3,
    1.6, -2.0, 1.8, -1.5, 1.2, -1.0, 0.9, -0.8,
    0.8, -0.7, 0.7, -0.7, 0.7, -0.6, 0.6, -0.6,
    0.6, -0.6, 0.6, -0.6, 0.5, -0.5, 0.5, -0.5,
    0.5, -0.5, 0.5, -0.5, 0.5, -0.5, 0.5, -0.4,
    0.4, -0.4, 0.4, -0.4, 0.4, -0.4, 0.4, -0.4,
    0.4, -0.4, 0.4, -0.4, 0.4, -0.4, 0.4, -0.4,
    0.4, -0.4, 0.4, -0.4, 0.4]
EW_CORE_TOP = [
    -1.2, 1.6, -2.0, 2.4, -2.8, 3.2, -3.0, 3.4,
    -3.6, 3.2, -3.8, 4.0, -3.5, 4.2, -4.5, 5.0,
    -5.5, 6.0, -6.5, 7.0, -15.5, 14.0, -11.0, 10.0,
    -16.0, 11.0, -12.0, 10.0, -11.0, 12.0, -9.0, 10.0,
    -10.0, 16.74, -14.0, 10.0, -9.0, 9.5, -10.0, 8.5,
    -9.0, 12.0, -13.0, 10.0, -15.0, 11.0, -10.0, 9.5,
    -9.5, 9.0, -10.0, 8.5, -8.5, 8.0, -8.0, 7.5,
    -7.5, 8.0, -7.0, 7.5, -7.5, 7.0, -8.0, 7.0,
    -7.0, 6.5, -11.0, 6.5, -6.0, 5.8, -5.5, 5.2,
    -5.0, 4.8, -4.6, 4.5, -4.4, 4.2, -4.0, 4.0,
    -3.8, 3.7, -3.6, 3.5, -3.4, 3.4, -3.3, 3.2,
    -3.2, 3.1, -3.0, 3.0, -3.0, 2.9, -2.9, 2.8,
    # tail
    -2.8, 2.7, -2.7, 2.6, -2.6, 2.5, -2.5, 2.4,
    -2.4, 2.3, -2.3, 2.2, -2.2, 2.1, -2.1, 2.0,
    -2.0, 1.9, -1.9, 1.9, -1.8, 1.8, -1.8, 1.7,
    -1.7, 1.7, -1.6, 1.6, -1.6, 1.5, -1.5, 1.5,
    -1.5, 1.4, -1.4, 1.4, -1.4, 1.3, -1.3, 1.3,
    -1.3, 1.3, -1.3, 1.3, -1.3, 1.3, -1.3, 1.3,
    -1.3, 1.4, -1.4, 1.5, -1.5, 1.6, -1.7, 1.8,
    -1.8, 1.9, -2.0, 2.0, -2.1, 2.2, -2.3, 2.4,
    -2.8, 3.0, -2.6, 2.2, -1.9, 1.6, -1.4, 1.3,
    -1.2, 1.2, -1.1, 1.1, -1.1, 1.0, -1.0, 1.0,
    -1.0, 0.9, -0.9, 0.9, -0.9, 0.9, -0.8, 0.8,
    -0.8, 0.8, -0.8, 0.8, -0.8, 0.8, -0.7, 0.7,
    -0.7, 0.7, -0.7, 0.7, -0.7, 0.7, -0.7, 0.7,
    -0.7, 0.7, -0.7, 0.7, -0.7, 0.6, -0.6, 0.6,
    -0.6, 0.6, -0.6, 0.6, -0.6]

NS_SERIES = [NS_GROUND, NS_F1, NS_F2, NS_F3, NS_F4, NS_F5, NS_CORE_LOW, NS_CORE_UP, NS_CORE_TOP]
EW_SERIES = [EW_GROUND, EW_F1, EW_F2, EW_F3, EW_F4, EW_F5, EW_CORE_LOW, EW_CORE_UP, EW_CORE_TOP]

LABELS = ["地盤部分", "一層部分", "二層部分", "三層部分", "四層部分", "五層部分",
          "心柱下部", "心柱上部", "心柱最上部"]
NS_PEAKS = ["-15.98", "10.21", "-9.322", "-8.345", "7.842", "5.786", "39.62", "-37.86", "49.02"]
EW_PEAKS = ["6.866", "8.124", "5.334", "-5.045", "-3.491", "2.584", "-12.47", "17.71", "16.74"]

BLUE, RED, GREEN, MAGENTA = "#3a4c9e", "#f02a2a", "#1f8a4a", "#b94fa6"
COLORS = [BLUE, RED, GREEN, RED, BLUE, MAGENTA, RED, BLUE, MAGENTA]

NS_YTICKS = [-50, 0, 50]
EW_YTICKS = [-20, 0, 20]
X_TICKS = [0, 10, 20, 30, 40, 50, 60]

SERIF = "Liberation Serif, Times New Roman, serif"
CJK = "Noto Sans CJK JP"

# ---------------- layout geometry (pixels) ----------------
COLS = [
    dict(x0=47.0, x1=586.5, top0=19.0, ph=53.8, series=NS_SERIES, peaks=NS_PEAKS,
         axis="X", yt=NS_YTICKS, ydt=10, ytitle_x=14, title="NS 方向", title_xy=(64, 36),
         accel_xy=(49, 11.5), time_xy=(318, 673)),
    dict(x0=693.5, x1=1231.0, top0=28.3, ph=53.4, series=EW_SERIES, peaks=EW_PEAKS,
         axis="Y", yt=EW_YTICKS, ydt=5, ytitle_x=662, title="EW 方向", title_xy=(712, 44),
         accel_xy=(696, 20.5), time_xy=(962, 681)),
]
PITCH = 71.6


def px(x):
    return x / W


def py(y):
    return 1 - y / H


fig = go.Figure()
layout = {}
annotations = []

n = 0
for c, col in enumerate(COLS):
    for k in range(9):
        n += 1
        vals = col["series"][k]
        assert len(vals) == len(T_MAIN) + len(T_TAIL), (c, k, len(vals))
        top = col["top0"] + PITCH * k
        bot = top + col["ph"]
        sfx = "" if n == 1 else str(n)
        fig.add_trace(go.Scatter(
            x=TIME, y=[0.0] + vals + [0.0], mode="lines",
            line=dict(color=COLORS[k], width=1),
            xaxis="x" + sfx, yaxis="y" + sfx, hoverinfo="skip", showlegend=False))
        layout["xaxis" + sfx] = dict(
            domain=[px(col["x0"]), px(col["x1"])], range=[0, 60], anchor="y" + sfx,
            automargin=False, ticklabelstandoff=-5,
            tickvals=X_TICKS, ticktext=[str(v) for v in X_TICKS],
            showticklabels=(k == 8), ticks="outside", ticklen=5, tickwidth=1, tickcolor="#444",
            minor=dict(dtick=1, tick0=0, ticks="outside", ticklen=3, tickwidth=1,
                       tickcolor="#555", showgrid=False),
            showgrid=True, gridcolor="#d4d4d4", gridwidth=1.3, zeroline=False,
            showline=True, mirror=True, linecolor="#111", linewidth=1.5,
            tickfont=dict(family=SERIF, size=12.5, color="#222"))
        yt = col["yt"]
        layout["yaxis" + sfx] = dict(
            domain=[py(bot), py(top)], range=[yt[0], yt[-1]], anchor="x" + sfx,
            automargin=False,
            tickvals=yt, ticktext=[str(v) for v in yt],
            ticks="outside", ticklen=4, tickwidth=1, tickcolor="#444",
            minor=dict(dtick=col["ydt"], tick0=0, ticks="outside", ticklen=2.5,
                       tickwidth=1, tickcolor="#555", showgrid=False),
            showgrid=False, zeroline=False,
            showline=True, mirror=True, linecolor="#111", linewidth=1.3,
            tickfont=dict(family=SERIF, size=12.5, color="#222"))
        annotations.append(dict(
            xref="paper", yref="paper", x=px(col["x1"] - 3), y=py(top + 13),
            xanchor="right", yanchor="middle", showarrow=False,
            text=("<span style='font-family:%s;font-weight:bold;font-size:11.5px'>%s</span>"
                  "\u00a0\u00a0 %s (peak: %scm/s²)") % (CJK, LABELS[k], col["axis"], col["peaks"][k]),
            font=dict(family=SERIF, size=10.5, color="#111")))
        annotations.append(dict(
            xref="paper", yref="paper", x=px(col["ytitle_x"]), y=py((top + bot) / 2),
            xanchor="center", yanchor="middle", showarrow=False, textangle=-90,
            text="Acc. (cm/s²)", font=dict(family=SERIF, size=11.5, color="#222")))
    annotations.append(dict(
        xref="paper", yref="paper", x=px(col["title_xy"][0]), y=py(col["title_xy"][1]),
        xanchor="left", yanchor="middle", showarrow=False, text=col["title"],
        font=dict(family=SERIF, size=24, color="#111")))
    annotations.append(dict(
        xref="paper", yref="paper", x=px(col["accel_xy"][0]), y=py(col["accel_xy"][1]),
        xanchor="left", yanchor="middle", showarrow=False, text="Acceleration",
        font=dict(family=SERIF, size=10.5, color="#111")))
    annotations.append(dict(
        xref="paper", yref="paper", x=px(col["time_xy"][0]), y=py(col["time_xy"][1]),
        xanchor="center", yanchor="middle", showarrow=False, text="Time (s)",
        font=dict(family=SERIF, size=11.5, color="#222")))

fig.update_layout(**layout)
fig.update_layout(
    width=W, height=H, margin=dict(l=0, r=0, t=0, b=0, autoexpand=False),
    paper_bgcolor="white", plot_bgcolor="white", showlegend=False,
    annotations=annotations)

fig.write_html(
    "out.html",
    config={"displayModeBar": False},
    post_script="document.documentElement.style.margin='0';"
                "document.body.style.margin='0';document.body.style.padding='0';"
                "document.body.style.overflow='hidden';")
